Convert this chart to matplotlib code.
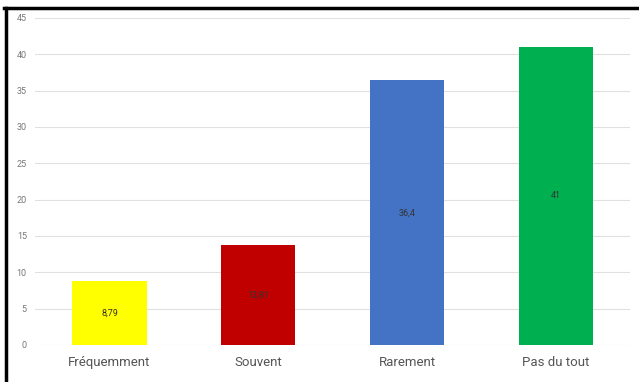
import matplotlib
matplotlib.use("Agg")
import matplotlib.pyplot as plt
from matplotlib.lines import Line2D

# Données
categories = ["Fréquemment", "Souvent", "Rarement", "Pas du tout"]
valeurs = [8.79, 13.81, 36.4, 41]
etiquettes = ["8,79", "13,81", "36,4", "41"]
couleurs = ["#ffff00", "#c00000", "#4472c4", "#00b050"]
y_ticks = [0, 5, 10, 15, 20, 25, 30, 35, 40, 45]

plt.rcParams['font.family'] = ['Roboto', 'DejaVu Sans']

fig = plt.figure(figsize=(6.39, 3.82), dpi=100)
ax = fig.add_axes([0.055, 0.097, 0.931, 0.856])

x = range(len(categories))
bars = ax.bar(x, valeurs, width=0.5, color=couleurs, zorder=3)

# Étiquettes au centre des barres
for b, lab in zip(bars, etiquettes):
    ax.text(b.get_x() + b.get_width() / 2, b.get_height() / 2, lab,
            ha='center', va='center', fontsize=6.5, color='#333333', zorder=4)

ax.set_xlim(-0.5, len(categories) - 0.5)
ax.set_ylim(0, 45)
ax.set_yticks(y_ticks)
ax.set_yticklabels([str(v) for v in y_ticks], fontsize=6.5, color='#777777')
ax.set_xticks(list(x))
ax.set_xticklabels(categories, fontsize=9.5, color='#555555')
ax.tick_params(axis='y', length=0, pad=6)
ax.tick_params(axis='x', length=0, pad=8)

ax.grid(axis='y', color='#e0e0e0', linewidth=0.8, zorder=0)
for s in ax.spines.values():
    s.set_visible(False)

# Bordure noire en haut et à gauche
fig.add_artist(Line2D([0.006, 1.0], [0.978, 0.978], color='black', linewidth=2.5,
                      transform=fig.transFigure))
fig.add_artist(Line2D([0.010, 0.010], [0.0, 0.978], color='black', linewidth=2.5,
                      transform=fig.transFigure))

fig.savefig("out.png", dpi=100)
